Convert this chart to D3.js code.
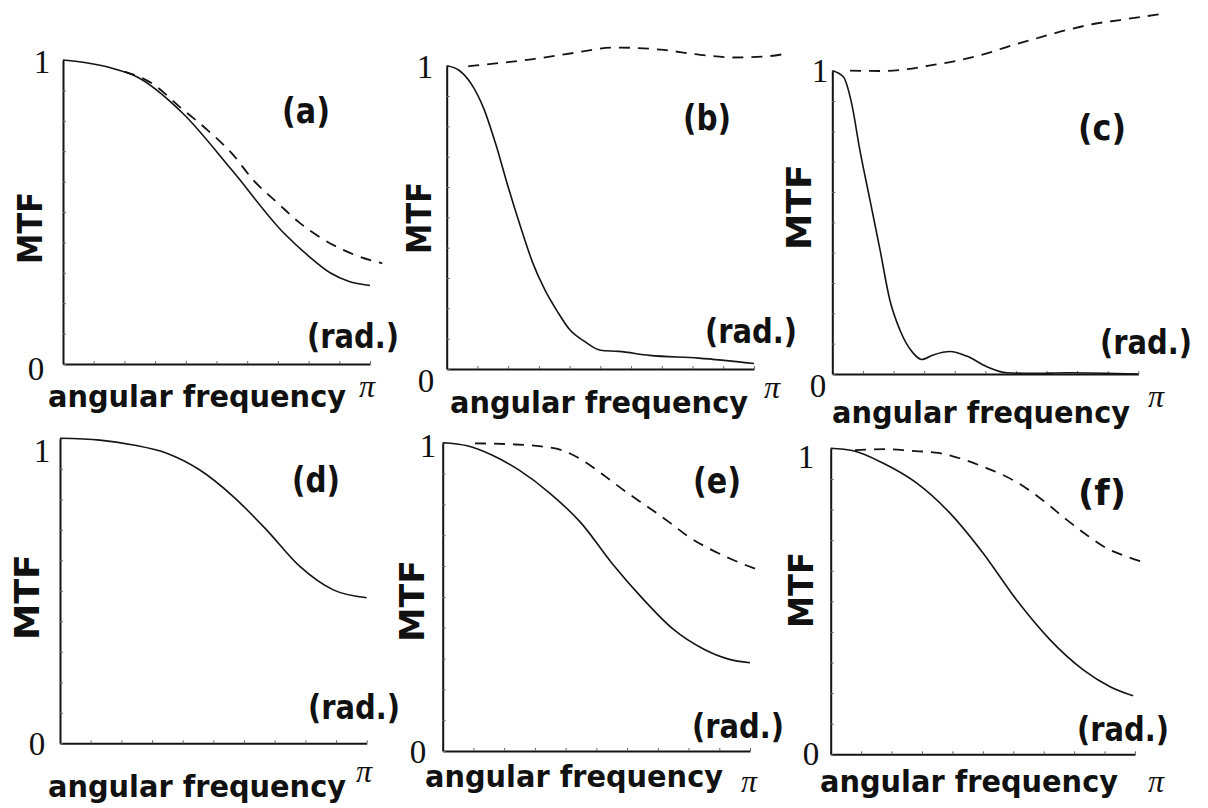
<!DOCTYPE html>
<html>
<head>
<meta charset="utf-8">
<script src="https://cdn.jsdelivr.net/npm/d3@7"></script>
<style>
  html, body { margin: 0; padding: 0; background: #fff; }
  svg { display: block; }
  .lbl { font-family: "DejaVu Sans", sans-serif; font-weight: bold; fill: #111; }
  .num { font-family: "Liberation Serif", "DejaVu Serif", serif; fill: #111; }
  .pi  { font-family: "Liberation Serif", "DejaVu Serif", serif; font-style: italic; fill: #111; }
</style>
</head>
<body>
<svg id="chart" width="1208" height="808"></svg>
<script>
// MTF curves, x = angular frequency as a fraction of pi, y = MTF
const mtfA_solid  = [[0,1.0],[0.08,0.99],[0.16,0.973],[0.24,0.945],[0.39,0.825],[0.55,0.638],[0.72,0.43],[0.80,0.355],[0.87,0.3],[0.93,0.272],[1.0,0.258]];
const mtfA_dashed = [[0.2,0.962],[0.29,0.923],[0.38,0.846],[0.47,0.77],[0.55,0.693],[0.62,0.605],[0.70,0.529],[0.77,0.465],[0.84,0.415],[0.95,0.359],[1.04,0.331]];

const mtfB_solid  = [[0,1.0],[0.04,0.985],[0.08,0.94],[0.12,0.86],[0.16,0.74],[0.2,0.6],[0.24,0.47],[0.28,0.35],[0.32,0.26],[0.36,0.19],[0.4,0.13],[0.45,0.09],[0.5,0.062],[0.56,0.058],[0.66,0.045],[0.82,0.036],[1.0,0.018]];
const mtfB_dashed = [[0.07,0.998],[0.174,1.009],[0.282,1.022],[0.413,1.042],[0.543,1.06],[0.695,1.053],[0.825,1.036],[0.934,1.027],[1.042,1.031],[1.107,1.04]];

const mtfC_solid  = [[0,1.0],[0.036,0.98],[0.063,0.893],[0.09,0.739],[0.123,0.574],[0.156,0.409],[0.188,0.244],[0.221,0.145],[0.265,0.068],[0.292,0.048],[0.33,0.063],[0.385,0.074],[0.439,0.059],[0.505,0.024],[0.57,0.004],[0.657,0.002],[0.766,0.004],[1.0,0.0]];
const mtfC_dashed = [[0.058,1.0],[0.167,0.999],[0.243,1.005],[0.33,1.019],[0.417,1.035],[0.505,1.057],[0.592,1.085],[0.679,1.11],[0.766,1.134],[0.853,1.154],[0.94,1.167],[1.076,1.187]];

const mtfD_solid  = [[0,1.0],[0.13,0.994],[0.239,0.978],[0.348,0.951],[0.456,0.896],[0.565,0.809],[0.674,0.699],[0.783,0.579],[0.891,0.503],[1.0,0.477]];

const mtfE_solid  = [[0,1.0],[0.08,0.99],[0.16,0.96],[0.25,0.91],[0.35,0.835],[0.45,0.74],[0.55,0.61],[0.65,0.495],[0.75,0.395],[0.85,0.33],[0.93,0.298],[1.0,0.286]];
const mtfE_dashed = [[0.105,0.998],[0.22,0.995],[0.32,0.988],[0.39,0.975],[0.46,0.94],[0.53,0.89],[0.6,0.838],[0.67,0.79],[0.74,0.74],[0.8,0.695],[0.87,0.655],[0.94,0.622],[1.033,0.585]];

const mtfF_solid  = [[0,1.0],[0.074,0.992],[0.173,0.951],[0.283,0.886],[0.392,0.788],[0.501,0.657],[0.611,0.504],[0.721,0.374],[0.83,0.276],[0.918,0.221],[0.994,0.191]];
const mtfF_dashed = [[0.08,0.994],[0.184,0.997],[0.261,0.992],[0.359,0.984],[0.425,0.967],[0.513,0.935],[0.578,0.907],[0.644,0.869],[0.71,0.82],[0.776,0.766],[0.841,0.717],[0.907,0.673],[0.973,0.646],[1.033,0.626]];

const panelNames  = ["(a)", "(b)", "(c)", "(d)", "(e)", "(f)"];
const yTickLabels = ["0", "1"];
const xAxisTitle  = "angular frequency";
const xEndLabel   = "\u03c0";
const yAxisTitle  = "MTF";
const unitLabel   = "(rad.)";

const solidSeries  = [mtfA_solid, mtfB_solid, mtfC_solid, mtfD_solid, mtfE_solid, mtfF_solid];
const dashedSeries = [mtfA_dashed, mtfB_dashed, mtfC_dashed, null, mtfE_dashed, mtfF_dashed];

// Frame of each small plot and where its texts sit
const layout = [
  { x0: 63,    x1: 370,    y1: 60,    y0: 364,
    one: [42, 73],   zero: [36, 380],  mtf: [30, 228, 72],  name: [306, 123],
    rad: [307, 348], xt: [48, 407],    pi: [359, 397] },
  { x0: 446.7, x1: 754,    y1: 65.7,  y0: 369,
    one: [425, 78],  zero: [426, 392], mtf: [419, 218, 72], name: [707, 130],
    rad: [705, 343], xt: [450, 413],   pi: [764, 398] },
  { x0: 832.3, x1: 1138.3, y1: 70.7,  y0: 374,
    one: [820, 82],  zero: [818, 397], mtf: [799, 207, 86], name: [1102, 140],
    rad: [1100, 354], xt: [832, 423],  pi: [1148, 407] },
  { x0: 60,    x1: 366.7,  y1: 438.3, y0: 743.3,
    one: [42, 462],  zero: [37, 755],  mtf: [27, 597, 86],  name: [316, 492],
    rad: [308, 719], xt: [48, 797],    pi: [356, 782] },
  { x0: 442.7, x1: 750,    y1: 442.7, y0: 751,
    one: [428, 457], zero: [418, 763], mtf: [412, 601, 82], name: [717, 493],
    rad: [692, 738], xt: [425, 787],   pi: [741, 792] },
  { x0: 830.7, x1: 1135,   y1: 448.3, y0: 754.3,
    one: [806, 468], zero: [811, 765], mtf: [801, 590, 76], name: [1102, 505],
    rad: [1077, 741], xt: [820, 792],  pi: [1148, 792] }
];

const svg = d3.select("#chart");
const ink = "#141414";

layout.forEach((L, i) => {
  const x = d3.scaleLinear().domain([0, 1]).range([L.x0, L.x1]);
  const y = d3.scaleLinear().domain([0, 1]).range([L.y0, L.y1]);
  const g = svg.append("g");

  // axes with small inward ticks
  const xAxis = d3.axisBottom(x).ticks(10).tickSizeInner(-3).tickSizeOuter(0).tickFormat("");
  const yAxis = d3.axisLeft(y).ticks(10).tickSizeInner(-3).tickSizeOuter(0).tickFormat("");
  const gx = g.append("g").attr("transform", `translate(0,${L.y0})`).call(xAxis);
  const gy = g.append("g").attr("transform", `translate(${L.x0},0)`).call(yAxis);
  [gx, gy].forEach(a => {
    a.select(".domain").attr("stroke", ink).attr("stroke-width", 2);
    a.selectAll(".tick line").attr("stroke", "#666").attr("stroke-width", 1);
  });

  const line = d3.line()
    .x(d => x(d[0]))
    .y(d => y(d[1]))
    .curve(d3.curveMonotoneX);

  g.append("path")
    .datum(solidSeries[i])
    .attr("d", line)
    .attr("fill", "none")
    .attr("stroke", ink)
    .attr("stroke-width", 1.6);

  if (dashedSeries[i]) {
    g.append("path")
      .datum(dashedSeries[i])
      .attr("d", line)
      .attr("fill", "none")
      .attr("stroke", ink)
      .attr("stroke-width", 1.8)
      .attr("stroke-dasharray", "11,8");
  }

  // tick values 0 and 1
  g.append("text").attr("class", "num")
    .attr("x", L.zero[0]).attr("y", L.zero[1])
    .attr("text-anchor", "middle").attr("font-size", 33)
    .text(yTickLabels[0]);
  g.append("text").attr("class", "num")
    .attr("x", L.one[0]).attr("y", L.one[1])
    .attr("text-anchor", "middle").attr("font-size", 33)
    .text(yTickLabels[1]);

  // vertical title
  g.append("text").attr("class", "lbl")
    .attr("transform", `translate(${L.mtf[0]},${L.mtf[1]}) rotate(-90)`)
    .attr("text-anchor", "middle")
    .attr("dominant-baseline", "central")
    .attr("font-size", 34)
    .attr("textLength", L.mtf[2])
    .attr("lengthAdjust", "spacingAndGlyphs")
    .text(yAxisTitle);

  // panel name
  g.append("text").attr("class", "lbl")
    .attr("x", L.name[0]).attr("y", L.name[1])
    .attr("text-anchor", "middle").attr("font-size", 35)
    .attr("textLength", 48)
    .attr("lengthAdjust", "spacingAndGlyphs")
    .text(panelNames[i]);

  // unit
  g.append("text").attr("class", "lbl")
    .attr("x", L.rad[0]).attr("y", L.rad[1])
    .attr("font-size", 34)
    .attr("textLength", 92)
    .attr("lengthAdjust", "spacingAndGlyphs")
    .text(unitLabel);

  // horizontal title and pi
  g.append("text").attr("class", "lbl")
    .attr("x", L.xt[0]).attr("y", L.xt[1])
    .attr("font-size", 30)
    .attr("textLength", 298)
    .attr("lengthAdjust", "spacingAndGlyphs")
    .text(xAxisTitle);
  g.append("text").attr("class", "pi")
    .attr("x", L.pi[0]).attr("y", L.pi[1])
    .attr("font-size", 32)
    .text(xEndLabel);
});
</script>
</body>
</html>
